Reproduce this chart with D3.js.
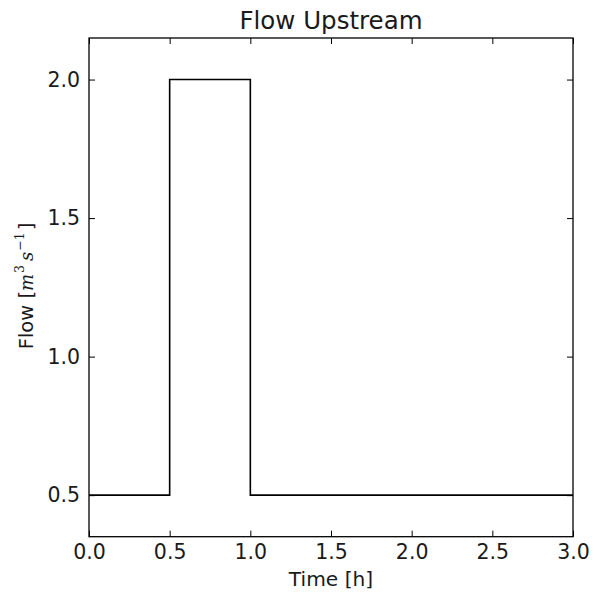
<!DOCTYPE html>
<html>
<head>
<meta charset="utf-8">
<script src="https://cdn.jsdelivr.net/npm/d3@7"></script>
<style>
  body { margin: 0; background: #fff; }
  text { font-family: "DejaVu Sans", sans-serif; fill: #1a1a1a; }
</style>
</head>
<body>
<div id="wrapper"></div>
<script>
// data
const times = [0, 0.5, 1.0, 1.5, 2.0, 2.5, 3.0];
const flows = [0.5, 2.0, 0.5, 0.5, 0.5, 0.5, 0.5];
const xTicks = [0, 0.5, 1.0, 1.5, 2.0, 2.5, 3.0];
const yTicks = [0.5, 1.0, 1.5, 2.0];

const dataset = times.map((t, i) => ({ time: t, flow: flows[i] }));

const dimensions = {
  width: 597,
  height: 596,
  margin: { top: 38, right: 24, bottom: 59.3, left: 89 }
};
dimensions.boundedWidth = dimensions.width - dimensions.margin.left - dimensions.margin.right;
dimensions.boundedHeight = dimensions.height - dimensions.margin.top - dimensions.margin.bottom;

const svg = d3.select("#wrapper").append("svg")
  .attr("width", dimensions.width)
  .attr("height", dimensions.height);

const bounds = svg.append("g")
  .attr("transform", `translate(${dimensions.margin.left},${dimensions.margin.top})`);

const xScale = d3.scaleLinear().domain([0, 3]).range([0, dimensions.boundedWidth]);
const yScale = d3.scaleLinear().domain([0.35, 2.15]).range([dimensions.boundedHeight, 0]);

// line
const lineGenerator = d3.line()
  .x(d => xScale(d.time))
  .y(d => yScale(d.flow))
  .curve(d3.curveStepAfter);

bounds.append("path")
  .attr("d", lineGenerator(dataset))
  .attr("fill", "none")
  .attr("stroke", "#000")
  .attr("stroke-width", 1.6);

// axes, ticks pointing inward on all sides
const fmt = d3.format(".1f");
const tickLen = 6;

const xAxis = bounds.append("g")
  .attr("transform", `translate(0,${dimensions.boundedHeight})`)
  .call(d3.axisBottom(xScale).tickValues(xTicks).tickFormat(fmt).tickSize(-tickLen).tickPadding(8));
const xTop = bounds.append("g")
  .call(d3.axisTop(xScale).tickValues(xTicks).tickFormat("").tickSize(-tickLen));
const yAxis = bounds.append("g")
  .call(d3.axisLeft(yScale).tickValues(yTicks).tickFormat(fmt).tickSize(-tickLen).tickPadding(9));
const yRight = bounds.append("g")
  .attr("transform", `translate(${dimensions.boundedWidth},0)`)
  .call(d3.axisRight(yScale).tickValues(yTicks).tickFormat("").tickSize(-tickLen));

[xAxis, xTop, yAxis, yRight].forEach(a => {
  a.select(".domain").remove();
  a.selectAll(".tick line").attr("stroke", "#000").attr("stroke-width", 1);
  a.selectAll("text").attr("font-size", 20.5).style("font-family", "DejaVu Sans").attr("fill", "#1a1a1a");
});

// frame
bounds.append("rect")
  .attr("width", dimensions.boundedWidth)
  .attr("height", dimensions.boundedHeight)
  .attr("fill", "none")
  .attr("stroke", "#000")
  .attr("stroke-width", 1.3);

// title and labels
svg.append("text")
  .attr("x", dimensions.margin.left + dimensions.boundedWidth / 2)
  .attr("y", 29)
  .attr("text-anchor", "middle")
  .attr("font-size", 24.5)
  .text("Flow Upstream");

svg.append("text")
  .attr("x", dimensions.margin.left + dimensions.boundedWidth / 2)
  .attr("y", 586)
  .attr("text-anchor", "middle")
  .attr("font-size", 20.2)
  .text("Time [h]");

const yLabel = svg.append("text")
  .attr("transform", `translate(33,286) rotate(-90)`)
  .attr("text-anchor", "middle")
  .attr("font-size", 19.5);
yLabel.append("tspan").text("Flow [");
yLabel.append("tspan").attr("font-size", 18).style("font-family", "DejaVu Serif").style("font-style", "italic").text("m");
yLabel.append("tspan").attr("font-size", 12.5).attr("dy", -9).attr("dx", 1).style("font-family", "DejaVu Serif").text("3");
yLabel.append("tspan").attr("font-size", 18).attr("dy", 9).attr("dx", 4).style("font-family", "DejaVu Serif").style("font-style", "italic").text("s");
yLabel.append("tspan").attr("font-size", 12.5).attr("dy", -9).attr("dx", 1).style("font-family", "DejaVu Serif").text("\u22121");
yLabel.append("tspan").attr("dy", 9).attr("dx", 2).text("]");
</script>
</body>
</html>
